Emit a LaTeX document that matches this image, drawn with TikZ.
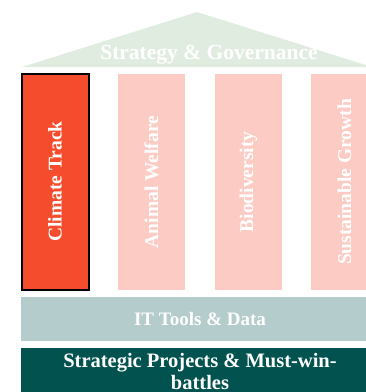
\documentclass[tikz,border=0pt]{standalone}
\usepackage{fontspec}
\setmainfont{Liberation Serif}
\definecolor{roofgreen}{HTML}{E1ECE0}
\definecolor{climatered}{HTML}{F44C2C}
\definecolor{pillarpink}{HTML}{FBCBC4}
\definecolor{itgrey}{HTML}{B4CCCB}
\definecolor{projteal}{HTML}{02524F}
\tikzset{
	pillar/.style={rotate=90, minimum width=216pt, minimum height=67pt, inner sep=0pt,
		text=white, font=\fontsize{19.5}{22}\selectfont\bfseries},
	band/.style={minimum width=358pt, inner sep=0pt, text=white, align=center,
		font=\fontsize{19}{22}\selectfont\bfseries}
}
\begin{document}
\begin{tikzpicture}[x=1pt,y=-1pt]
		\clip (0,0) rectangle (366,392);
		% roof
		\coordinate (roofl) at (22,67);
		\coordinate (roofr) at (372,67);
		\coordinate (apex) at (197,12);
		\fill[roofgreen] (roofl) -- (apex) -- (roofr) -- cycle;
		\node[text=white, font=\fontsize{21.5}{24}\selectfont\bfseries] (gov) at (209,55) {Strategy \& Governance};
		
		% pillars
		\node[pillar, fill=climatered, draw=black, line width=2pt] (climate) at (55,181.5) {Climate Track};
		\foreach \x/\name/\txt in {151.5/animal/Animal Welfare, 248.5/bio/Biodiversity, 344.5/growth/Sustainable Growth}{
			\node[pillar, fill=pillarpink] (\name) at (\x,182) {\txt};
		}
		
		% base
		\node[band, fill=itgrey, minimum height=44pt] (it) at (200,319) {IT Tools \& Data};
		\node[band, fill=projteal, minimum height=46pt, font=\fontsize{20.5}{22}\selectfont\bfseries] (proj) at (200,371) {Strategic Projects \& Must-win-\\battles};
\end{tikzpicture}
\end{document}
